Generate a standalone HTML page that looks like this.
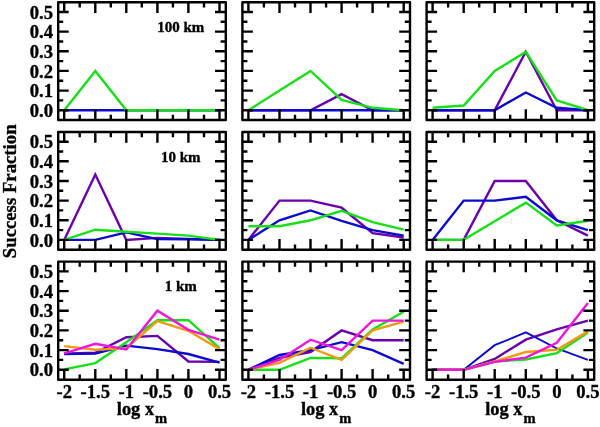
<!DOCTYPE html>
<html><head><meta charset="utf-8"><title>Success Fraction</title>
<style>
html,body{margin:0;padding:0;background:#fff;}
svg{display:block}
text{font-family:"Liberation Serif",serif;font-weight:bold;fill:#000;stroke:#000;stroke-width:0.35px;stroke-linejoin:round}
.t{font-size:18.6px}
.l{font-size:15px}
.a{font-size:18.4px}
.s{font-size:14.5px}
</style></head><body>
<svg width="600" height="427" viewBox="0 0 600 427">
<rect width="600" height="427" fill="#fff"/>
<g fill="none" stroke-width="2.4" stroke-linejoin="miter" stroke-miterlimit="10">
<polyline points="64.2,110.2 95.3,110.2 126.3,110.2 157.4,110.2 188.4,110.2 219.5,110.2" stroke="#0a0ad0"/>
<polyline points="64.2,110.2 95.3,70.9 126.3,110.2 157.4,110.2 188.4,110.2 219.5,110.2" stroke="#16e016"/>
</g>
<path d="M64.2,2.3v10.7M64.2,120.0v-10.7M79.7,2.3v5.2M79.7,120.0v-5.2M95.3,2.3v10.7M95.3,120.0v-10.7M110.8,2.3v5.2M110.8,120.0v-5.2M126.3,2.3v10.7M126.3,120.0v-10.7M141.8,2.3v5.2M141.8,120.0v-5.2M157.4,2.3v10.7M157.4,120.0v-10.7M172.9,2.3v5.2M172.9,120.0v-5.2M188.4,2.3v10.7M188.4,120.0v-10.7M204.0,2.3v5.2M204.0,120.0v-5.2M219.5,2.3v10.7M219.5,120.0v-10.7M58.2,110.2h10.5M225.8,110.2h-10.8M58.2,100.4h5.0M225.8,100.4h-5.2M58.2,90.6h10.5M225.8,90.6h-10.8M58.2,80.7h5.0M225.8,80.7h-5.2M58.2,70.9h10.5M225.8,70.9h-10.8M58.2,61.1h5.0M225.8,61.1h-5.2M58.2,51.3h10.5M225.8,51.3h-10.8M58.2,41.5h5.0M225.8,41.5h-5.2M58.2,31.6h10.5M225.8,31.6h-10.8M58.2,21.8h5.0M225.8,21.8h-5.2M58.2,12.0h10.5M225.8,12.0h-10.8" stroke="#000" stroke-width="2.4" fill="none"/>
<rect x="58.2" y="2.3" width="167.6" height="117.7" fill="none" stroke="#000" stroke-width="2.4" stroke-linejoin="round"/>
<g fill="none" stroke-width="2.4" stroke-linejoin="miter" stroke-miterlimit="10">
<polyline points="248.4,110.2 279.5,110.2 310.5,110.2 341.6,94.1 372.6,110.2 403.7,110.2" stroke="#6c00ac"/>
<polyline points="248.4,110.2 279.5,110.2 310.5,110.2 341.6,110.2 372.6,110.2 403.7,110.2" stroke="#0a0ad0"/>
<polyline points="248.4,110.2 279.5,90.6 310.5,70.9 341.6,100.0 372.6,107.8 403.7,110.2" stroke="#16e016"/>
</g>
<path d="M248.4,2.3v10.7M248.4,120.0v-10.7M263.9,2.3v5.2M263.9,120.0v-5.2M279.5,2.3v10.7M279.5,120.0v-10.7M295.0,2.3v5.2M295.0,120.0v-5.2M310.5,2.3v10.7M310.5,120.0v-10.7M326.1,2.3v5.2M326.1,120.0v-5.2M341.6,2.3v10.7M341.6,120.0v-10.7M357.1,2.3v5.2M357.1,120.0v-5.2M372.6,2.3v10.7M372.6,120.0v-10.7M388.2,2.3v5.2M388.2,120.0v-5.2M403.7,2.3v10.7M403.7,120.0v-10.7M242.4,110.2h10.5M410.0,110.2h-10.8M242.4,100.4h5.0M410.0,100.4h-5.2M242.4,90.6h10.5M410.0,90.6h-10.8M242.4,80.7h5.0M410.0,80.7h-5.2M242.4,70.9h10.5M410.0,70.9h-10.8M242.4,61.1h5.0M410.0,61.1h-5.2M242.4,51.3h10.5M410.0,51.3h-10.8M242.4,41.5h5.0M410.0,41.5h-5.2M242.4,31.6h10.5M410.0,31.6h-10.8M242.4,21.8h5.0M410.0,21.8h-5.2M242.4,12.0h10.5M410.0,12.0h-10.8" stroke="#000" stroke-width="2.4" fill="none"/>
<rect x="242.4" y="2.3" width="167.6" height="117.7" fill="none" stroke="#000" stroke-width="2.4" stroke-linejoin="round"/>
<g fill="none" stroke-width="2.4" stroke-linejoin="miter" stroke-miterlimit="10">
<polyline points="432.6,110.2 463.7,110.2 494.7,110.2 525.8,51.7 556.8,110.2 587.9,110.2" stroke="#6c00ac"/>
<polyline points="432.6,110.2 463.7,110.2 494.7,110.2 525.8,92.5 556.8,107.8 587.9,110.2" stroke="#0a0ad0"/>
<polyline points="432.6,107.8 463.7,105.5 494.7,70.9 525.8,51.9 556.8,100.4 587.9,110.2" stroke="#16e016"/>
</g>
<path d="M432.6,2.3v10.7M432.6,120.0v-10.7M448.1,2.3v5.2M448.1,120.0v-5.2M463.7,2.3v10.7M463.7,120.0v-10.7M479.2,2.3v5.2M479.2,120.0v-5.2M494.7,2.3v10.7M494.7,120.0v-10.7M510.2,2.3v5.2M510.2,120.0v-5.2M525.8,2.3v10.7M525.8,120.0v-10.7M541.3,2.3v5.2M541.3,120.0v-5.2M556.8,2.3v10.7M556.8,120.0v-10.7M572.4,2.3v5.2M572.4,120.0v-5.2M587.9,2.3v10.7M587.9,120.0v-10.7M426.6,110.2h10.5M594.2,110.2h-10.8M426.6,100.4h5.0M594.2,100.4h-5.2M426.6,90.6h10.5M594.2,90.6h-10.8M426.6,80.7h5.0M594.2,80.7h-5.2M426.6,70.9h10.5M594.2,70.9h-10.8M426.6,61.1h5.0M594.2,61.1h-5.2M426.6,51.3h10.5M594.2,51.3h-10.8M426.6,41.5h5.0M594.2,41.5h-5.2M426.6,31.6h10.5M594.2,31.6h-10.8M426.6,21.8h5.0M594.2,21.8h-5.2M426.6,12.0h10.5M594.2,12.0h-10.8" stroke="#000" stroke-width="2.4" fill="none"/>
<rect x="426.6" y="2.3" width="167.6" height="117.7" fill="none" stroke="#000" stroke-width="2.4" stroke-linejoin="round"/>
<g fill="none" stroke-width="2.4" stroke-linejoin="miter" stroke-miterlimit="10">
<polyline points="64.2,239.9 95.3,174.5 126.3,239.9 157.4,237.9 188.4,238.9 219.5,239.9" stroke="#6c00ac"/>
<polyline points="64.2,239.9 95.3,239.9 126.3,232.4 157.4,239.1 188.4,239.3 219.5,239.9" stroke="#0a0ad0"/>
<polyline points="64.2,239.9 95.3,229.7 126.3,231.7 157.4,233.6 188.4,235.6 219.5,239.9" stroke="#16e016"/>
</g>
<path d="M64.2,132.0v10.7M64.2,249.8v-10.7M79.7,132.0v5.2M79.7,249.8v-5.2M95.3,132.0v10.7M95.3,249.8v-10.7M110.8,132.0v5.2M110.8,249.8v-5.2M126.3,132.0v10.7M126.3,249.8v-10.7M141.8,132.0v5.2M141.8,249.8v-5.2M157.4,132.0v10.7M157.4,249.8v-10.7M172.9,132.0v5.2M172.9,249.8v-5.2M188.4,132.0v10.7M188.4,249.8v-10.7M204.0,132.0v5.2M204.0,249.8v-5.2M219.5,132.0v10.7M219.5,249.8v-10.7M58.2,239.9h10.5M225.8,239.9h-10.8M58.2,230.1h5.0M225.8,230.1h-5.2M58.2,220.3h10.5M225.8,220.3h-10.8M58.2,210.4h5.0M225.8,210.4h-5.2M58.2,200.6h10.5M225.8,200.6h-10.8M58.2,190.8h5.0M225.8,190.8h-5.2M58.2,181.0h10.5M225.8,181.0h-10.8M58.2,171.2h5.0M225.8,171.2h-5.2M58.2,161.3h10.5M225.8,161.3h-10.8M58.2,151.5h5.0M225.8,151.5h-5.2M58.2,141.7h10.5M225.8,141.7h-10.8" stroke="#000" stroke-width="2.4" fill="none"/>
<rect x="58.2" y="132.0" width="167.6" height="117.8" fill="none" stroke="#000" stroke-width="2.4" stroke-linejoin="round"/>
<g fill="none" stroke-width="2.4" stroke-linejoin="miter" stroke-miterlimit="10">
<polyline points="248.4,239.9 279.5,200.6 310.5,200.6 341.6,207.7 372.6,233.2 403.7,237.5" stroke="#6c00ac"/>
<polyline points="248.4,239.9 279.5,220.3 310.5,210.4 341.6,220.8 372.6,230.1 403.7,235.6" stroke="#0a0ad0"/>
<polyline points="248.4,226.2 279.5,226.2 310.5,220.3 341.6,210.8 372.6,222.2 403.7,229.7" stroke="#16e016"/>
</g>
<path d="M248.4,132.0v10.7M248.4,249.8v-10.7M263.9,132.0v5.2M263.9,249.8v-5.2M279.5,132.0v10.7M279.5,249.8v-10.7M295.0,132.0v5.2M295.0,249.8v-5.2M310.5,132.0v10.7M310.5,249.8v-10.7M326.1,132.0v5.2M326.1,249.8v-5.2M341.6,132.0v10.7M341.6,249.8v-10.7M357.1,132.0v5.2M357.1,249.8v-5.2M372.6,132.0v10.7M372.6,249.8v-10.7M388.2,132.0v5.2M388.2,249.8v-5.2M403.7,132.0v10.7M403.7,249.8v-10.7M242.4,239.9h10.5M410.0,239.9h-10.8M242.4,230.1h5.0M410.0,230.1h-5.2M242.4,220.3h10.5M410.0,220.3h-10.8M242.4,210.4h5.0M410.0,210.4h-5.2M242.4,200.6h10.5M410.0,200.6h-10.8M242.4,190.8h5.0M410.0,190.8h-5.2M242.4,181.0h10.5M410.0,181.0h-10.8M242.4,171.2h5.0M410.0,171.2h-5.2M242.4,161.3h10.5M410.0,161.3h-10.8M242.4,151.5h5.0M410.0,151.5h-5.2M242.4,141.7h10.5M410.0,141.7h-10.8" stroke="#000" stroke-width="2.4" fill="none"/>
<rect x="242.4" y="132.0" width="167.6" height="117.8" fill="none" stroke="#000" stroke-width="2.4" stroke-linejoin="round"/>
<g fill="none" stroke-width="2.4" stroke-linejoin="miter" stroke-miterlimit="10">
<polyline points="432.6,239.9 463.7,239.9 494.7,181.0 525.8,181.0 556.8,220.3 587.9,235.6" stroke="#6c00ac"/>
<polyline points="432.6,239.9 463.7,200.6 494.7,200.6 525.8,196.7 556.8,220.3 587.9,230.1" stroke="#0a0ad0"/>
<polyline points="432.6,239.9 463.7,239.9 494.7,221.2 525.8,202.6 556.8,225.4 587.9,220.7" stroke="#16e016"/>
</g>
<path d="M432.6,132.0v10.7M432.6,249.8v-10.7M448.1,132.0v5.2M448.1,249.8v-5.2M463.7,132.0v10.7M463.7,249.8v-10.7M479.2,132.0v5.2M479.2,249.8v-5.2M494.7,132.0v10.7M494.7,249.8v-10.7M510.2,132.0v5.2M510.2,249.8v-5.2M525.8,132.0v10.7M525.8,249.8v-10.7M541.3,132.0v5.2M541.3,249.8v-5.2M556.8,132.0v10.7M556.8,249.8v-10.7M572.4,132.0v5.2M572.4,249.8v-5.2M587.9,132.0v10.7M587.9,249.8v-10.7M426.6,239.9h10.5M594.2,239.9h-10.8M426.6,230.1h5.0M594.2,230.1h-5.2M426.6,220.3h10.5M594.2,220.3h-10.8M426.6,210.4h5.0M594.2,210.4h-5.2M426.6,200.6h10.5M594.2,200.6h-10.8M426.6,190.8h5.0M594.2,190.8h-5.2M426.6,181.0h10.5M594.2,181.0h-10.8M426.6,171.2h5.0M594.2,171.2h-5.2M426.6,161.3h10.5M594.2,161.3h-10.8M426.6,151.5h5.0M594.2,151.5h-5.2M426.6,141.7h10.5M594.2,141.7h-10.8" stroke="#000" stroke-width="2.4" fill="none"/>
<rect x="426.6" y="132.0" width="167.6" height="117.8" fill="none" stroke="#000" stroke-width="2.4" stroke-linejoin="round"/>
<g fill="none" stroke-width="2.4" stroke-linejoin="miter" stroke-miterlimit="10">
<polyline points="64.2,353.6 95.3,352.8 126.3,337.3 157.4,335.9 188.4,361.5 219.5,361.9" stroke="#6c00ac"/>
<polyline points="64.2,354.0 95.3,353.6 126.3,345.6 157.4,349.1 188.4,354.0 219.5,362.7" stroke="#0a0ad0"/>
<polyline points="64.2,369.4 95.3,363.1 126.3,342.2 157.4,320.2 188.4,320.2 219.5,348.1" stroke="#16e016"/>
<polyline points="64.2,346.1 95.3,349.7 126.3,348.1 157.4,321.0 188.4,330.8 219.5,349.1" stroke="#f09a14"/>
<polyline points="64.2,353.4 95.3,343.8 126.3,349.5 157.4,310.7 188.4,329.8 219.5,339.7" stroke="#f014dc"/>
</g>
<path d="M64.2,261.6v10.7M64.2,379.7v-10.7M79.7,261.6v5.2M79.7,379.7v-5.2M95.3,261.6v10.7M95.3,379.7v-10.7M110.8,261.6v5.2M110.8,379.7v-5.2M126.3,261.6v10.7M126.3,379.7v-10.7M141.8,261.6v5.2M141.8,379.7v-5.2M157.4,261.6v10.7M157.4,379.7v-10.7M172.9,261.6v5.2M172.9,379.7v-5.2M188.4,261.6v10.7M188.4,379.7v-10.7M204.0,261.6v5.2M204.0,379.7v-5.2M219.5,261.6v10.7M219.5,379.7v-10.7M58.2,369.8h10.5M225.8,369.8h-10.8M58.2,359.9h5.0M225.8,359.9h-5.2M58.2,350.1h10.5M225.8,350.1h-10.8M58.2,340.2h5.0M225.8,340.2h-5.2M58.2,330.4h10.5M225.8,330.4h-10.8M58.2,320.6h5.0M225.8,320.6h-5.2M58.2,310.7h10.5M225.8,310.7h-10.8M58.2,300.9h5.0M225.8,300.9h-5.2M58.2,291.1h10.5M225.8,291.1h-10.8M58.2,281.2h5.0M225.8,281.2h-5.2M58.2,271.4h10.5M225.8,271.4h-10.8" stroke="#000" stroke-width="2.4" fill="none"/>
<rect x="58.2" y="261.6" width="167.6" height="118.1" fill="none" stroke="#000" stroke-width="2.4" stroke-linejoin="round"/>
<g fill="none" stroke-width="2.4" stroke-linejoin="miter" stroke-miterlimit="10">
<polyline points="248.4,369.8 279.5,357.9 310.5,352.0 341.6,330.4 372.6,340.2 403.7,340.2" stroke="#6c00ac"/>
<polyline points="248.4,369.8 279.5,355.0 310.5,350.1 341.6,342.2 372.6,350.1 403.7,363.8" stroke="#0a0ad0"/>
<polyline points="248.4,369.8 279.5,369.8 310.5,357.9 341.6,358.3 372.6,329.4 403.7,311.7" stroke="#16e016"/>
<polyline points="248.4,369.8 279.5,362.9 310.5,347.7 341.6,359.9 372.6,330.4 403.7,321.6" stroke="#f09a14"/>
<polyline points="248.4,369.8 279.5,359.9 310.5,339.7 341.6,350.1 372.6,320.6 403.7,320.6" stroke="#f014dc"/>
</g>
<path d="M248.4,261.6v10.7M248.4,379.7v-10.7M263.9,261.6v5.2M263.9,379.7v-5.2M279.5,261.6v10.7M279.5,379.7v-10.7M295.0,261.6v5.2M295.0,379.7v-5.2M310.5,261.6v10.7M310.5,379.7v-10.7M326.1,261.6v5.2M326.1,379.7v-5.2M341.6,261.6v10.7M341.6,379.7v-10.7M357.1,261.6v5.2M357.1,379.7v-5.2M372.6,261.6v10.7M372.6,379.7v-10.7M388.2,261.6v5.2M388.2,379.7v-5.2M403.7,261.6v10.7M403.7,379.7v-10.7M242.4,369.8h10.5M410.0,369.8h-10.8M242.4,359.9h5.0M410.0,359.9h-5.2M242.4,350.1h10.5M410.0,350.1h-10.8M242.4,340.2h5.0M410.0,340.2h-5.2M242.4,330.4h10.5M410.0,330.4h-10.8M242.4,320.6h5.0M410.0,320.6h-5.2M242.4,310.7h10.5M410.0,310.7h-10.8M242.4,300.9h5.0M410.0,300.9h-5.2M242.4,291.1h10.5M410.0,291.1h-10.8M242.4,281.2h5.0M410.0,281.2h-5.2M242.4,271.4h10.5M410.0,271.4h-10.8" stroke="#000" stroke-width="2.4" fill="none"/>
<rect x="242.4" y="261.6" width="167.6" height="118.1" fill="none" stroke="#000" stroke-width="2.4" stroke-linejoin="round"/>
<g fill="none" stroke-width="2.4" stroke-linejoin="miter" stroke-miterlimit="10">
<polyline points="432.6,369.8 463.7,369.8 494.7,358.9 525.8,339.7 556.8,329.4 587.9,320.6" stroke="#6c00ac"/>
<polyline points="432.6,369.8 463.7,369.8 494.7,345.2 525.8,332.4 556.8,348.5 587.9,359.9" stroke="#0a0ad0" stroke-width="1.9"/>
<polyline points="432.6,369.8 463.7,369.8 494.7,361.5 525.8,359.5 556.8,353.2 587.9,332.4" stroke="#16e016"/>
<polyline points="432.6,369.8 463.7,369.8 494.7,361.5 525.8,352.0 556.8,349.7 587.9,331.4" stroke="#f09a14"/>
<polyline points="432.6,369.8 463.7,369.8 494.7,361.9 525.8,357.6 556.8,342.8 587.9,302.9" stroke="#f014dc"/>
</g>
<path d="M432.6,261.6v10.7M432.6,379.7v-10.7M448.1,261.6v5.2M448.1,379.7v-5.2M463.7,261.6v10.7M463.7,379.7v-10.7M479.2,261.6v5.2M479.2,379.7v-5.2M494.7,261.6v10.7M494.7,379.7v-10.7M510.2,261.6v5.2M510.2,379.7v-5.2M525.8,261.6v10.7M525.8,379.7v-10.7M541.3,261.6v5.2M541.3,379.7v-5.2M556.8,261.6v10.7M556.8,379.7v-10.7M572.4,261.6v5.2M572.4,379.7v-5.2M587.9,261.6v10.7M587.9,379.7v-10.7M426.6,369.8h10.5M594.2,369.8h-10.8M426.6,359.9h5.0M594.2,359.9h-5.2M426.6,350.1h10.5M594.2,350.1h-10.8M426.6,340.2h5.0M594.2,340.2h-5.2M426.6,330.4h10.5M594.2,330.4h-10.8M426.6,320.6h5.0M594.2,320.6h-5.2M426.6,310.7h10.5M594.2,310.7h-10.8M426.6,300.9h5.0M594.2,300.9h-5.2M426.6,291.1h10.5M594.2,291.1h-10.8M426.6,281.2h5.0M594.2,281.2h-5.2M426.6,271.4h10.5M594.2,271.4h-10.8" stroke="#000" stroke-width="2.4" fill="none"/>
<rect x="426.6" y="261.6" width="167.6" height="118.1" fill="none" stroke="#000" stroke-width="2.4" stroke-linejoin="round"/>
<text class="t" x="53" y="116.8" text-anchor="end">0.0</text>
<text class="t" x="53" y="97.2" text-anchor="end">0.1</text>
<text class="t" x="53" y="77.5" text-anchor="end">0.2</text>
<text class="t" x="53" y="57.9" text-anchor="end">0.3</text>
<text class="t" x="53" y="38.2" text-anchor="end">0.4</text>
<text class="t" x="53" y="18.6" text-anchor="end">0.5</text>
<text class="t" x="53" y="246.5" text-anchor="end">0.0</text>
<text class="t" x="53" y="226.9" text-anchor="end">0.1</text>
<text class="t" x="53" y="207.2" text-anchor="end">0.2</text>
<text class="t" x="53" y="187.6" text-anchor="end">0.3</text>
<text class="t" x="53" y="167.9" text-anchor="end">0.4</text>
<text class="t" x="53" y="148.3" text-anchor="end">0.5</text>
<text class="t" x="53" y="376.4" text-anchor="end">0.0</text>
<text class="t" x="53" y="356.7" text-anchor="end">0.1</text>
<text class="t" x="53" y="337.0" text-anchor="end">0.2</text>
<text class="t" x="53" y="317.3" text-anchor="end">0.3</text>
<text class="t" x="53" y="297.7" text-anchor="end">0.4</text>
<text class="t" x="53" y="278.0" text-anchor="end">0.5</text>
<text class="t" x="64.2" y="398.0" text-anchor="middle">-2</text>
<text class="t" x="95.3" y="398.0" text-anchor="middle">-1.5</text>
<text class="t" x="126.3" y="398.0" text-anchor="middle">-1</text>
<text class="t" x="157.4" y="398.0" text-anchor="middle">-0.5</text>
<text class="t" x="188.4" y="398.0" text-anchor="middle">0</text>
<text class="t" x="219.5" y="398.0" text-anchor="middle">0.5</text>
<text class="a" x="116.8" y="415.4">log x<tspan class="s" dx="1.0" dy="7.5">m</tspan></text>
<text class="t" x="248.4" y="398.0" text-anchor="middle">-2</text>
<text class="t" x="279.5" y="398.0" text-anchor="middle">-1.5</text>
<text class="t" x="310.5" y="398.0" text-anchor="middle">-1</text>
<text class="t" x="341.6" y="398.0" text-anchor="middle">-0.5</text>
<text class="t" x="372.6" y="398.0" text-anchor="middle">0</text>
<text class="t" x="403.7" y="398.0" text-anchor="middle">0.5</text>
<text class="a" x="301.0" y="415.4">log x<tspan class="s" dx="1.0" dy="7.5">m</tspan></text>
<text class="t" x="432.6" y="398.0" text-anchor="middle">-2</text>
<text class="t" x="463.7" y="398.0" text-anchor="middle">-1.5</text>
<text class="t" x="494.7" y="398.0" text-anchor="middle">-1</text>
<text class="t" x="525.8" y="398.0" text-anchor="middle">-0.5</text>
<text class="t" x="556.8" y="398.0" text-anchor="middle">0</text>
<text class="t" x="587.9" y="398.0" text-anchor="middle">0.5</text>
<text class="a" x="485.2" y="415.4">log x<tspan class="s" dx="1.0" dy="7.5">m</tspan></text>
<text class="l" x="180.7" y="31.7" text-anchor="middle">100 km</text>
<text class="l" x="180.7" y="161.6" text-anchor="middle">10 km</text>
<text class="l" x="180.7" y="291.3" text-anchor="middle">1 km</text>
<text class="a" style="font-size:18.75px" transform="translate(16.1,191.3) rotate(-90)" text-anchor="middle">Success Fraction</text>
</svg></body></html>
